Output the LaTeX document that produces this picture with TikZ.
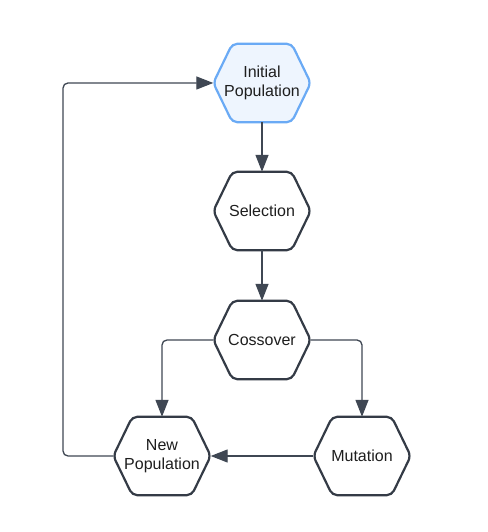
\documentclass[tikz,border=0pt]{standalone}
\usepackage{fontspec}
\setmainfont{Liberation Sans}
\usetikzlibrary{arrows.meta,backgrounds}
\definecolor{edgec}{HTML}{3F4753}
\definecolor{hexborder}{HTML}{343B46}
\definecolor{blueborder}{HTML}{6AAAF5}
\definecolor{bluefill}{HTML}{EEF5FE}
\definecolor{txt}{HTML}{1E1E1E}
\tikzset{
 hexnode/.style={minimum width=97pt, minimum height=78pt, inner sep=0pt, align=center, font=\fontsize{16}{19}\selectfont, text=txt},
 hexline/.style={draw=hexborder, line width=2.2pt, rounded corners=5pt, fill=white},
 hexblue/.style={draw=blueborder, line width=2.2pt, rounded corners=5pt, fill=bluefill},
 conn/.style={draw=edgec, line width=1.3pt, rounded corners=5pt, -{Triangle[length=17pt,width=13pt]}},
}
\newcommand\hexpath[1]{(#1.north) -- ([xshift=-19pt]#1.north east) -- (#1.east) -- ([xshift=-19pt]#1.south east) -- ([xshift=19pt]#1.south west) -- (#1.west) -- ([xshift=19pt]#1.north west) -- cycle}
\begin{document}
\begin{tikzpicture}[x=1pt,y=1pt]
\useasboundingbox (0,0) rectangle (487,532);
\node[hexnode] (init) at (262,449) {Initial\\Population};
\node[hexnode] (sel) at (262,321) {Selection};
\node[hexnode] (cross) at (262,192) {Cossover};
\node[hexnode] (newpop) at (162,76) {New\\Population};
\node[hexnode] (mut) at (362,76) {Mutation};
\coordinate (loopx) at (63,0);
\begin{scope}[on background layer]
\fill[white] (0,0) rectangle (487,532);
\draw[hexblue] \hexpath{init};
\draw[hexline] \hexpath{sel};
\draw[hexline] \hexpath{cross};
\draw[hexline] \hexpath{newpop};
\draw[hexline] \hexpath{mut};
\end{scope}
\draw[conn] (init) -- (sel);
\draw[conn] (sel) -- (cross);
\draw[conn] (cross.west) -| (newpop.north);
\draw[conn] (cross.east) -| (mut.north);
\draw[conn] (mut.west) -- (newpop.east);
\draw[conn] (newpop.west) -- (newpop.west -| loopx) |- (init.west);
\end{tikzpicture}
\end{document}
